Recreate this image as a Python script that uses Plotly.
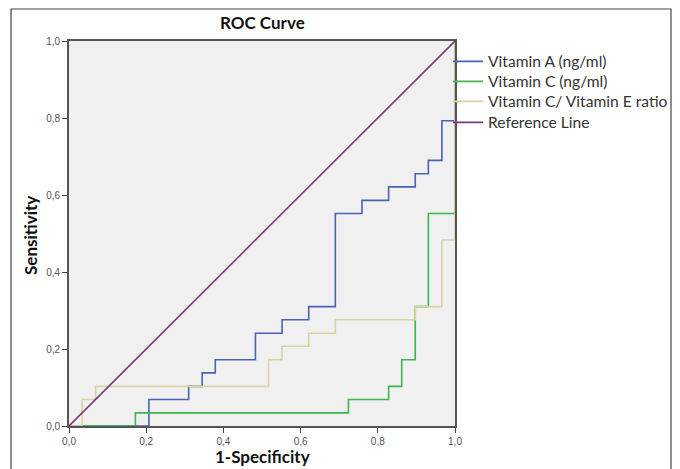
import plotly.graph_objects as go

# ROC coordinates (1-Specificity, Sensitivity) after each threshold step
vitA_fpr = [0, 0.207, 0.310, 0.345, 0.379, 0.483, 0.552, 0.621, 0.690, 0.759, 0.828, 0.897, 0.931, 0.966, 1.0]
vitA_tpr = [0, 0.069, 0.103, 0.138, 0.172, 0.241, 0.276, 0.310, 0.552, 0.586, 0.621, 0.655, 0.690, 0.793, 1.0]

vitC_fpr = [0, 0.172, 0.724, 0.828, 0.862, 0.897, 0.931, 1.0]
vitC_tpr = [0, 0.034, 0.069, 0.103, 0.172, 0.310, 0.552, 1.0]

ratio_fpr = [0, 0.034, 0.069, 0.517, 0.552, 0.621, 0.690, 0.897, 0.966, 1.0]
ratio_tpr = [0, 0.069, 0.103, 0.172, 0.207, 0.241, 0.276, 0.310, 0.483, 1.0]

ref_x = [0, 1]
ref_y = [0, 1]

series_names = ["Vitamin A (ng/ml)", "Vitamin C (ng/ml)", "Vitamin C/ Vitamin E ratio", "Reference Line"]
series_colors = ["#4a62b4", "#3fb54c", "#dad3a2", "#7d3b78"]

tick_vals = [0, 0.2, 0.4, 0.6, 0.8, 1.0]
tick_text = ["0,0", "0,2", "0,4", "0,6", "0,8", "1,0"]

# The page adds an 8px body margin; the figure is sized so that the
# plot area lands where it sits in the 680x469 reference.
OFF = 8
W, H = 680 - OFF, 469 - OFF
L, T = 69 - OFF, 41 - OFF
R = W - (455 - OFF)
B = H - (426 - OFF)
pw, ph = W - L - R, H - T - B


def px(xpage):
    return (xpage - OFF - L) / pw


def py(ypage):
    return (H - B - (ypage - OFF)) / ph


legend_ids = ["legend", "legend2", "legend3", "legend4"]
legend_centers = [61.7, 81.7, 101.7, 122.7]

fig = go.Figure()
data = [(vitA_fpr, vitA_tpr, "hv"), (vitC_fpr, vitC_tpr, "hv"),
        (ratio_fpr, ratio_tpr, "hv"), (ref_x, ref_y, "linear")]
for (xs, ys, shp), name, col, lg in zip(data, series_names, series_colors, legend_ids):
    fig.add_trace(go.Scatter(x=xs, y=ys, mode="lines", name=name, legend=lg,
                             line=dict(color=col, width=1.6, shape=shp)))

axis_common = dict(range=[0, 1], tickvals=tick_vals, ticktext=tick_text,
                   showgrid=False, zeroline=False, showline=True, mirror=True,
                   linecolor="#555555", linewidth=1.6, ticks="outside", ticklen=5,
                   tickcolor="#444444", tickwidth=1.2,
                   tickfont=dict(family="Liberation Sans", size=10, color="#555555"))

legend_layout = {}
for lg, yc in zip(legend_ids, legend_centers):
    legend_layout[lg] = dict(x=px(448), xanchor="left", y=py(yc), yanchor="middle",
                             font=dict(family="Lato", size=15.6, color="#333333"),
                             bgcolor="rgba(0,0,0,0)", borderwidth=0, itemwidth=30)

fig.update_layout(
    width=W, height=H,
    margin=dict(l=L, r=R, t=T, b=B, pad=0, autoexpand=False),
    paper_bgcolor="white", plot_bgcolor="#f0f0f0",
    xaxis=axis_common, yaxis=axis_common,
    showlegend=True,
    shapes=[dict(type="rect", xref="paper", yref="paper",
                 x0=px(11), x1=px(671), y0=py(485), y1=py(9),
                 line=dict(color="#444444", width=1.2), fillcolor="rgba(0,0,0,0)", layer="below")],
    annotations=[
        dict(text="<b>ROC Curve</b>", xref="paper", yref="paper", x=0.5, y=py(22),
             xanchor="center", yanchor="middle", showarrow=False,
             font=dict(family="Lato", size=17, color="#111111")),
        dict(text="<b>1-Specificity</b>", xref="paper", yref="paper", x=0.5, y=py(457),
             xanchor="center", yanchor="middle", showarrow=False,
             font=dict(family="Lato", size=17, color="#111111")),
        dict(text="<b>Sensitivity</b>", xref="paper", yref="paper", x=px(30), y=py(236),
             xanchor="center", yanchor="middle", showarrow=False, textangle=-90,
             font=dict(family="Lato", size=17, color="#111111")),
    ],
    **legend_layout,
)

fig.write_html("out.html")
